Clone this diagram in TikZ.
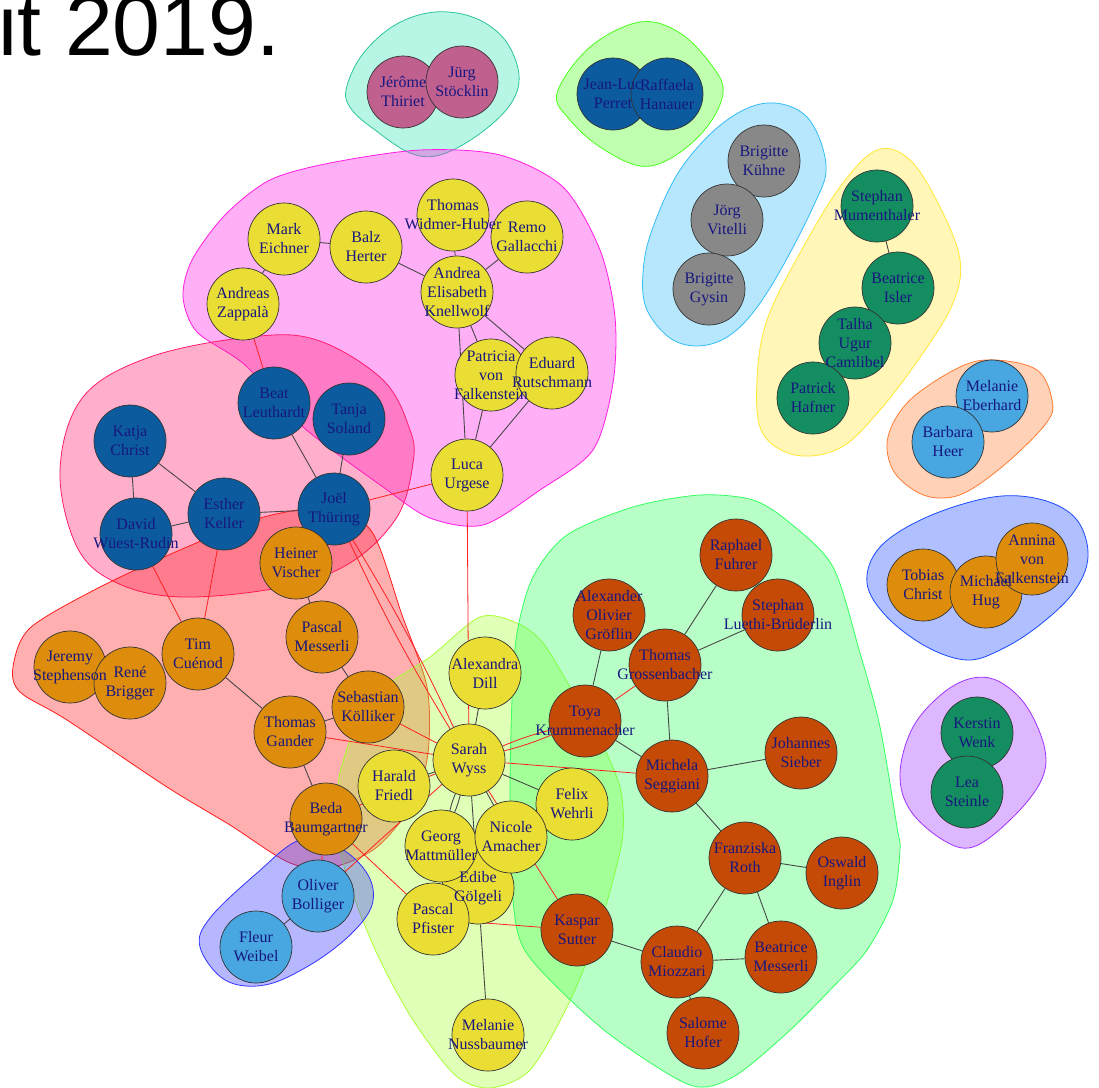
\documentclass[tikz,border=0pt]{standalone}
\usepackage{fontspec}
\setmainfont{Liberation Serif}
\newfontfamily\titlefont{Liberation Sans}
\pgfdeclarelayer{hulls}
\pgfdeclarelayer{edges}
\pgfdeclarelayer{labels}
\pgfsetlayers{hulls,edges,main,labels}
\definecolor{cyel}{HTML}{EADD33}
\definecolor{cdbl}{HTML}{0B5B9E}
\definecolor{cora}{HTML}{DE8C0B}
\definecolor{cred}{HTML}{C54A06}
\definecolor{cgrn}{HTML}{148E60}
\definecolor{cgry}{HTML}{888888}
\definecolor{clbl}{HTML}{48A6E0}
\definecolor{cmau}{HTML}{C0608F}
\definecolor{labelc}{HTML}{17177F}
\definecolor{nodeline}{HTML}{333333}
\definecolor{edgeg}{HTML}{474747}
\definecolor{edger}{HTML}{FF2020}
\definecolor{hteal}{HTML}{33E8B5}
\definecolor{hgrs}{HTML}{4AFF1C}
\definecolor{hsky}{HTML}{33BDF7}
\definecolor{hyel}{HTML}{FFE833}
\definecolor{hora}{HTML}{FF7D33}
\definecolor{hblu}{HTML}{1C4AFF}
\definecolor{hpur}{HTML}{A033FF}
\definecolor{hmag}{HTML}{FF1CE3}
\definecolor{hpnk}{HTML}{FF1C6E}
\definecolor{hsal}{HTML}{FF1C1C}
\definecolor{hlim}{HTML}{A8FF33}
\definecolor{hgrb}{HTML}{33FF5E}
\definecolor{hsla}{HTML}{3333FF}
\newcommand\person[5]{%
  \node[pnode,fill=#4] (#1) at (#2,#3) {};
  \begin{pgfonlayer}{labels}\node[lbl] (#1t) at (#2,#3) {#5};\end{pgfonlayer}}
\begin{document}
\begin{tikzpicture}[x=1pt,y=-1pt,
  pnode/.style={circle,draw=nodeline,line width=0.7pt,minimum size=72pt,inner sep=0pt},
  lbl/.style={text=labelc,align=center,font=\fontsize{16}{19}\selectfont,inner sep=0pt},
  bl/.style={draw=edgeg,line width=0.9pt},
  rl/.style={draw=edger,line width=0.8pt},
  hull/.style={line width=0.8pt,fill opacity=0.35}]
\useasboundingbox (0,0) rectangle (1099,1087);
\begin{pgfonlayer}{hulls}
\fill[white] (0,0) rectangle (1099,1087);
\end{pgfonlayer}
\node[anchor=base west,font=\titlefont\fontsize{86}{86}\selectfont,inner sep=0pt] (title) at (-2,55) {it 2019.};

% ---------- nodes ----------
\person{jt}{403}{92}{cmau}{Jérôme\\Thiriet}
\person{js}{462}{82}{cmau}{Jürg\\Stöcklin}
\person{jlp}{613}{94}{cdbl}{Jean-Luc\\Perret}
\person{rh}{667}{94}{cdbl}{Raffaela\\Hanauer}
\person{bk}{764}{161}{cgry}{Brigitte\\Kühne}
\person{jv}{727}{220}{cgry}{Jörg\\Vitelli}
\person{bg}{709}{289}{cgry}{Brigitte\\Gysin}
\person{sm}{877}{206}{cgrn}{Stephan\\Mumenthaler}
\person{bi}{898}{288}{cgrn}{Beatrice\\Isler}
\person{tuc}{855}{343}{cgrn}{Talha\\Ugur\\Camlibel}
\person{ph}{813}{398}{cgrn}{Patrick\\Hafner}
\person{me}{992}{396}{clbl}{Melanie\\Eberhard}
\person{bh}{948}{442}{clbl}{Barbara\\Heer}
\person{tc}{923}{585}{cora}{Tobias\\Christ}
\person{mh}{986}{592}{cora}{Michael\\Hug}
\person{avf}{1032}{559}{cora}{Annina\\von\\Falkenstein}
\person{kw}{977}{733}{cgrn}{Kerstin\\Wenk}
\person{ls}{967}{792}{cgrn}{Lea\\Steinle}

\person{remo}{527}{237}{cyel}{Remo\\Gallacchi}
\person{twh}{453}{215}{cyel}{Thomas\\Widmer-Huber}
\person{mark}{284}{239}{cyel}{Mark\\Eichner}
\person{balz}{366}{247}{cyel}{Balz\\Herter}
\person{andrea}{457}{292}{cyel}{Andrea\\Elisabeth\\Knellwolf}
\person{az}{243}{304}{cyel}{Andreas\\Zappalà}
\person{pvf}{491}{375}{cyel}{Patricia\\von\\Falkenstein}
\person{eduard}{552}{373}{cyel}{Eduard\\Rutschmann}
\person{luca}{467}{475}{cyel}{Luca\\Urgese}

\person{beat}{274}{403}{cdbl}{Beat\\Leuthardt}
\person{tanja}{349}{419}{cdbl}{Tanja\\Soland}
\person{katja}{130}{441}{cdbl}{Katja\\Christ}
\person{david}{136}{534}{cdbl}{David\\Wüest-Rudin}
\person{esther}{224}{514}{cdbl}{Esther\\Keller}
\person{joel}{334}{509}{cdbl}{Joël\\Thüring}

\person{heiner}{296}{563}{cora}{Heiner\\Vischer}
\person{pm}{322}{637}{cora}{Pascal\\Messerli}
\person{tim}{198}{654}{cora}{Tim\\Cuénod}
\person{jeremy}{70}{667}{cora}{Jeremy\\Stephenson}
\person{rene}{130}{683}{cora}{René\\Brigger}
\person{seb}{368}{707}{cora}{Sebastian\\Kölliker}
\person{tg}{290}{732}{cora}{Thomas\\Gander}
\person{beda}{326}{819}{cora}{Beda\\Baumgartner}

\person{oliver}{318}{896}{clbl}{Oliver\\Bolliger}
\person{fleur}{256}{947}{clbl}{Fleur\\Weibel}

\person{dill}{485}{673}{cyel}{Alexandra\\Dill}
\person{sarah}{469}{760}{cyel}{Sarah\\Wyss}
\person{harald}{394}{786}{cyel}{Harald\\Friedl}
\person{felix}{572}{804}{cyel}{Felix\\Wehrli}
\person{edibe}{478}{888}{cyel}{Edibe\\Gölgeli}
\person{georg}{441}{846}{cyel}{Georg\\Mattmüller}
\person{nicole}{511}{837}{cyel}{Nicole\\Amacher}
\person{pp}{433}{919}{cyel}{Pascal\\Pfister}
\person{mn}{488}{1035}{cyel}{Melanie\\Nussbaumer}

\person{raphael}{736}{555}{cred}{Raphael\\Fuhrer}
\person{aog}{609}{615}{cred}{Alexander\\Olivier\\Gröflin}
\person{slb}{778}{615}{cred}{Stephan\\Luethi-Brüderlin}
\person{tgr}{665}{665}{cred}{Thomas\\Grossenbacher}
\person{toya}{585}{721}{cred}{Toya\\Krummenacher}
\person{michela}{672}{776}{cred}{Michela\\Seggiani}
\person{johannes}{801}{753}{cred}{Johannes\\Sieber}
\person{fr}{745}{858}{cred}{Franziska\\Roth}
\person{oswald}{842}{873}{cred}{Oswald\\Inglin}
\person{kaspar}{577}{930}{cred}{Kaspar\\Sutter}
\person{claudio}{677}{962}{cred}{Claudio\\Miozzari}
\person{bm}{781}{957}{cred}{Beatrice\\Messerli}
\person{salome}{703}{1033}{cred}{Salome\\Hofer}

% ---------- edges ----------
\begin{pgfonlayer}{edges}
\draw[bl] (mark) -- (balz);
\draw[bl] (mark) -- (az);
\draw[bl] (balz) -- (andrea);
\draw[bl] (twh) -- (andrea);
\draw[bl] (remo) -- (andrea);
\draw[bl] (andrea) -- (pvf);
\draw[bl] (andrea) -- (eduard);
\draw[bl] (andrea) -- (luca);
\draw[bl] (pvf) -- (luca);
\draw[bl] (eduard) -- (luca);
\draw[rl] (az) -- (beat);
\draw[rl] (luca) -- (joel);
\draw[rl] (luca) -- (sarah);
\draw[bl] (beat) -- (joel);
\draw[bl] (tanja) -- (joel);
\draw[bl] (katja) -- (david);
\draw[bl] (katja) -- (esther);
\draw[bl] (david) -- (esther);
\draw[bl] (esther) -- (joel);
\draw[rl] (david) -- (tim);
\draw[rl] (esther) -- (tim);
\draw[rl] (joel) to[bend left=3] (sarah);
\draw[rl] (joel) to[bend right=3] (sarah);
\draw[bl] (heiner) -- (pm);
\draw[bl] (pm) -- (seb);
\draw[bl] (tim) -- (tg);
\draw[bl] (seb) -- (tg);
\draw[bl] (tg) -- (beda);
\draw[rl] (seb) -- (sarah);
\draw[rl] (tg) -- (sarah);
\draw[rl] (beda) -- (sarah);
\draw[rl] (beda) -- (pp);
\draw[rl] (beda) -- (oliver);
\draw[rl] (sarah) -- (oliver);
\draw[bl] (fleur) -- (oliver);
\draw[bl] (dill) -- (sarah);
\draw[bl] (harald) -- (sarah);
\draw[bl] (felix) -- (sarah);
\draw[bl] (sarah) to[bend left=4] (georg);
\draw[bl] (sarah) to[bend right=4] (georg);
\draw[bl] (sarah) -- (edibe);
\draw[bl] (sarah) -- (nicole);
\draw[rl] (sarah) -- (kaspar);
\draw[rl] (sarah) to[bend left=4] (toya);
\draw[rl] (sarah) to[bend right=4] (toya);
\draw[rl] (sarah) -- (michela);
\draw[rl] (pp) -- (kaspar);
\draw[bl] (edibe) -- (mn);
\draw[bl] (toya) -- (aog);
\draw[rl] (toya) -- (tgr);
\draw[bl] (toya) -- (michela);
\draw[bl] (tgr) -- (michela);
\draw[bl] (tgr) -- (raphael);
\draw[bl] (tgr) -- (slb);
\draw[bl] (michela) -- (johannes);
\draw[bl] (michela) -- (fr);
\draw[bl] (fr) -- (oswald);
\draw[bl] (fr) -- (claudio);
\draw[bl] (fr) -- (bm);
\draw[bl] (claudio) -- (bm);
\draw[bl] (claudio) -- (salome);
\draw[bl] (kaspar) -- (claudio);
\draw[bl] (sm) -- (bi);
\end{pgfonlayer}

% ---------- hulls ----------
\begin{pgfonlayer}{hulls}
\draw[hull,draw=hteal!85!black,fill=hteal] plot[smooth cycle,tension=0.6] coordinates {(346,90) (362,55) (395,25) (435,12) (475,18) (505,40) (519,75) (510,105) (478,135) (440,155) (410,153) (375,130) (352,110)};
\draw[hull,draw=hgrs,fill=hgrs] plot[smooth cycle,tension=0.6] coordinates {(557,93) (590,47) (640,22) (680,33) (713,67) (723,93) (707,127) (673,157) (640,166) (600,147) (570,120)};
\draw[hull,draw=hsky,fill=hsky] plot[smooth cycle,tension=0.6] coordinates {(643,273) (652,230) (680,170) (723,123) (767,103) (807,117) (826,165) (813,207) (773,283) (740,327) (707,345) (673,340) (647,310)};
\draw[hull,draw=hyel,fill=hyel] plot[smooth cycle,tension=0.6] coordinates {(757,380) (767,320) (800,253) (840,187) (877,150) (910,160) (940,207) (960,260) (953,303) (923,353) (880,410) (840,448) (795,455) (762,432)};
\draw[hull,draw=hora,fill=hora] plot[smooth cycle,tension=0.6] coordinates {(888,437) (910,400) (960,367) (995,360) (1037,370) (1052,400) (1047,422) (1010,460) (970,490) (943,498) (917,492) (893,470)};
\draw[hull,draw=hblu,fill=hblu] plot[smooth cycle,tension=0.6] coordinates {(867,583) (880,547) (927,517) (993,497) (1043,500) (1077,520) (1088,557) (1073,593) (1037,627) (1000,650) (967,660) (927,647) (887,617)};
\draw[hull,draw=hpur,fill=hpur] plot[smooth cycle,tension=0.6] coordinates {(900,773) (913,727) (943,693) (973,678) (1000,682) (1027,707) (1045,750) (1040,783) (1010,820) (973,847) (943,840) (910,810)};
\draw[hull,draw=hmag,fill=hmag] plot[smooth cycle,tension=0.5] coordinates {(183,297) (197,332) (245,365) (303,427) (383,487) (430,518) (483,525) (540,490) (593,450) (613,383) (615,317) (600,250) (563,187) (500,155) (420,150) (330,163) (270,180) (225,215) (192,260)};
\draw[hull,draw=hpnk,fill=hpnk] plot[smooth cycle,tension=0.6] coordinates {(60,470) (83,397) (150,357) (250,337) (317,340) (383,380) (410,430) (413,463) (397,517) (350,563) (283,587) (183,597) (117,583) (77,547)};
\draw[hull,draw=hsal,fill=hsal] plot[smooth cycle,tension=0.5] coordinates {(13,667) (30,628) (100,587) (180,550) (260,518) (330,508) (372,532) (402,615) (427,687) (428,753) (413,803) (377,847) (333,867) (290,863) (230,825) (167,787) (67,720) (20,692)};
\draw[hull,draw=hlim,fill=hlim] plot[smooth cycle,tension=0.5] coordinates {(480,617) (517,623) (543,643) (570,687) (597,733) (620,787) (623,833) (613,880) (595,940) (567,1007) (530,1070) (490,1088) (455,1075) (413,1020) (380,960) (355,900) (338,840) (340,773) (370,700) (430,657)};
\draw[hull,draw=hgrb,fill=hgrb] plot[smooth cycle,tension=0.5] coordinates {(753,500) (790,523) (833,567) (860,653) (880,727) (897,827) (900,850) (893,900) (867,950) (833,987) (787,1033) (733,1077) (690,1085) (613,1037) (557,987) (523,947) (513,900) (510,800) (512,700) (517,633) (533,577) (567,535) (633,507) (700,495)};
\draw[hull,draw=hsla,fill=hsla] plot[smooth cycle,tension=0.6] coordinates {(200,947) (210,918) (257,873) (300,840) (340,848) (368,875) (372,905) (350,935) (310,965) (265,985) (225,980)};
\end{pgfonlayer}
\end{tikzpicture}
\end{document}
